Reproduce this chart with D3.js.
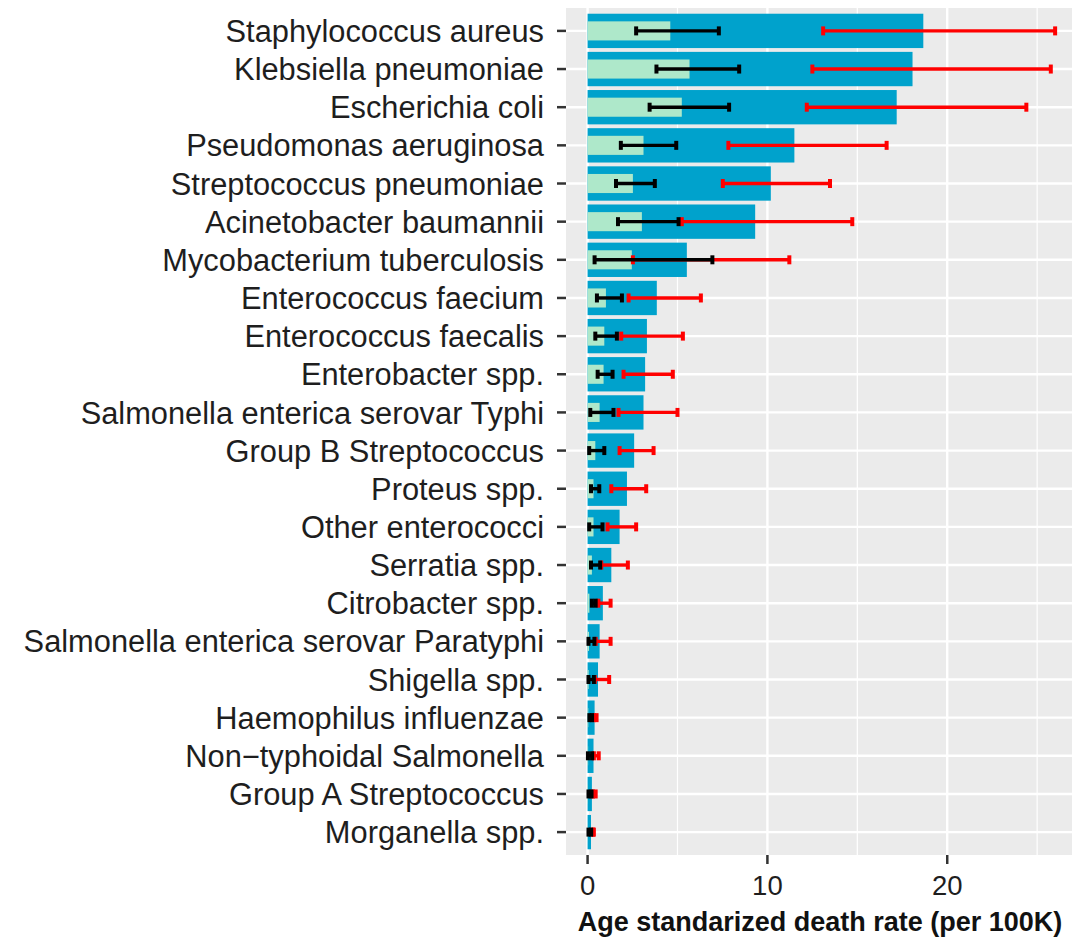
<!DOCTYPE html>
<html>
<head>
<meta charset="utf-8">
<script src="https://cdn.jsdelivr.net/npm/d3@7"></script>
<style>
  body { margin: 0; background: #fff; }
  svg { display: block; }
  text { font-family: "Liberation Sans", Arial, Helvetica, sans-serif; }
</style>
</head>
<body>
<svg id="chart" width="1072" height="939"></svg>
<script>
'use strict';

// pathogens, top to bottom
var categories = [
    'Staphylococcus aureus', 'Klebsiella pneumoniae', 'Escherichia coli',
    'Pseudomonas aeruginosa', 'Streptococcus pneumoniae', 'Acinetobacter baumannii',
    'Mycobacterium tuberculosis', 'Enterococcus faecium', 'Enterococcus faecalis',
    'Enterobacter spp.', 'Salmonella enterica serovar Typhi', 'Group B Streptococcus',
    'Proteus spp.', 'Other enterococci', 'Serratia spp.', 'Citrobacter spp.',
    'Salmonella enterica serovar Paratyphi', 'Shigella spp.', 'Haemophilus influenzae',
    'Non\u2212typhoidal Salmonella', 'Group A Streptococcus', 'Morganella spp.'
]

// blue bars (associated) and green bars (attributable)
var associated = [18.67, 18.07, 17.19, 11.5, 10.19, 9.32, 5.52, 3.85, 3.3, 3.2, 3.11,
    2.59, 2.19, 1.78, 1.32, 0.85, 0.67, 0.58, 0.39, 0.33, 0.24, 0.19]
var attributable = [4.6, 5.67, 5.24, 3.11, 2.52, 3.02, 2.46, 1.02, 0.93, 0.89, 0.67,
    0.43, 0.33, 0.33, 0.24, 0.1, 0.08, 0.06, 0.04, 0.03, 0.02, 0.01]

// black error bars
var attrLow = [2.7, 3.83, 3.45, 1.85, 1.58, 1.69, 0.39, 0.52, 0.43, 0.56, 0.15,
    0.09, 0.19, 0.09, 0.19, 0.24, 0.05, 0.05, 0.1, 0.02, 0.05, 0.05]
var attrHigh = [7.3, 8.43, 7.87, 4.93, 3.74, 5.06, 6.94, 1.91, 1.63, 1.39, 1.44,
    0.93, 0.65, 0.83, 0.7, 0.45, 0.38, 0.35, 0.25, 0.25, 0.22, 0.2]

// red error bars
var assocLow = [13.1, 12.5, 12.19, 7.83, 7.52, 5.24, 2.52, 2.28, 1.87, 2.0, 1.72,
    1.78, 1.32, 1.11, 0.76, 0.6, 0.45, 0.4, 0.35, 0.35, 0.3, 0.3]
var assocHigh = [26.0, 25.76, 24.4, 16.63, 13.48, 14.72, 11.22, 6.3, 5.3, 4.74, 5.0,
    3.67, 3.26, 2.7, 2.24, 1.28, 1.28, 1.2, 0.5, 0.62, 0.45, 0.35]

var xTicks = [0, 10, 20]
var xMinor = [5, 15, 25]

var rows = categories.map(function(c, i) {
    return {
        name: c,
        assoc: associated[i],
        attr: attributable[i],
        attrLo: attrLow[i],
        attrHi: attrHigh[i],
        assocLo: assocLow[i],
        assocHi: assocHigh[i]
    }
})

var svg = d3.select('#chart')
var panel = { left: 566, right: 1074, top: 8, bottom: 855 }

var x = d3.scaleLinear().domain([-1.2, 27.05]).range([panel.left, panel.right])
var y = d3.scalePoint().domain(categories).range([panel.top, panel.bottom]).padding(0.6)
var step = y.step()

// panel background
svg.append('rect')
    .attr('x', panel.left).attr('y', panel.top)
    .attr('width', panel.right - panel.left).attr('height', panel.bottom - panel.top)
    .attr('fill', '#ebebeb')

var grid = svg.append('g').attr('class', 'grid')
grid.selectAll('line.minor').data(xMinor).enter().append('line')
    .attr('x1', x).attr('x2', x)
    .attr('y1', panel.top).attr('y2', panel.bottom)
    .attr('stroke', '#fff').attr('stroke-width', 1.2)
grid.selectAll('line.majx').data(xTicks).enter().append('line')
    .attr('x1', x).attr('x2', x)
    .attr('y1', panel.top).attr('y2', panel.bottom)
    .attr('stroke', '#fff').attr('stroke-width', 2.4)
grid.selectAll('line.majy').data(categories).enter().append('line')
    .attr('x1', panel.left).attr('x2', panel.right)
    .attr('y1', y).attr('y2', y)
    .attr('stroke', '#fff').attr('stroke-width', 2.4)

// bars
var bh = step * 0.9,
    gh = step * 0.5
svg.append('g').selectAll('rect').data(rows).enter().append('rect')
    .attr('x', x(0))
    .attr('y', function(d) { return y(d.name) - bh / 2 })
    .attr('width', function(d) { return x(d.assoc) - x(0) })
    .attr('height', bh)
    .attr('fill', '#00a2cc')
svg.append('g').selectAll('rect').data(rows).enter().append('rect')
    .attr('x', x(0))
    .attr('y', function(d) { return y(d.name) - gh / 2 })
    .attr('width', function(d) { return x(d.attr) - x(0) })
    .attr('height', gh)
    .attr('fill', '#aee8ca')

function errorBars(lo, hi, color) {
    var g = svg.append('g')
    var cap = 4.5
    g.selectAll('line.h').data(rows).enter().append('line')
        .attr('x1', function(d) { return x(d[lo]) })
        .attr('x2', function(d) { return x(d[hi]) })
        .attr('y1', function(d) { return y(d.name) })
        .attr('y2', function(d) { return y(d.name) })
        .attr('stroke', color).attr('stroke-width', 3.4)
    ;[lo, hi].forEach(function(k) {
        g.selectAll('line.c' + k).data(rows).enter().append('line')
            .attr('x1', function(d) { return x(d[k]) })
            .attr('x2', function(d) { return x(d[k]) })
            .attr('y1', function(d) { return y(d.name) - cap })
            .attr('y2', function(d) { return y(d.name) + cap })
            .attr('stroke', color).attr('stroke-width', 4)
    })
}
errorBars('assocLo', 'assocHi', '#ff0000')
errorBars('attrLo', 'attrHi', '#000000')

// y axis
var yAxis = svg.append('g')
yAxis.selectAll('line').data(categories).enter().append('line')
    .attr('x1', panel.left - 9).attr('x2', panel.left)
    .attr('y1', y).attr('y2', y)
    .attr('stroke', '#333').attr('stroke-width', 2.5)
yAxis.selectAll('text').data(categories).enter().append('text')
    .attr('x', 544)
    .attr('y', y)
    .attr('dy', '0.36em')
    .attr('text-anchor', 'end')
    .style('font-size', '30.8px')
    .attr('fill', '#1e1e1e')
    .text(function(d) { return d })

// x axis
var xAxis = svg.append('g')
xAxis.selectAll('line').data(xTicks).enter().append('line')
    .attr('x1', x).attr('x2', x)
    .attr('y1', panel.bottom).attr('y2', panel.bottom + 9)
    .attr('stroke', '#333').attr('stroke-width', 2.5)
xAxis.selectAll('text').data(xTicks).enter().append('text')
    .attr('x', x)
    .attr('y', 895)
    .attr('text-anchor', 'middle')
    .style('font-size', '27.5px')
    .attr('fill', '#1e1e1e')
    .text(function(d) { return d })

svg.append('text')
    .attr('x', (panel.left + panel.right) / 2)
    .attr('y', 931)
    .attr('text-anchor', 'middle')
    .style('font-size', '27px')
    .style('font-weight', 'bold')
    .attr('fill', '#111')
    .text('Age standarized death rate (per 100K)')
</script>
</body>
</html>
